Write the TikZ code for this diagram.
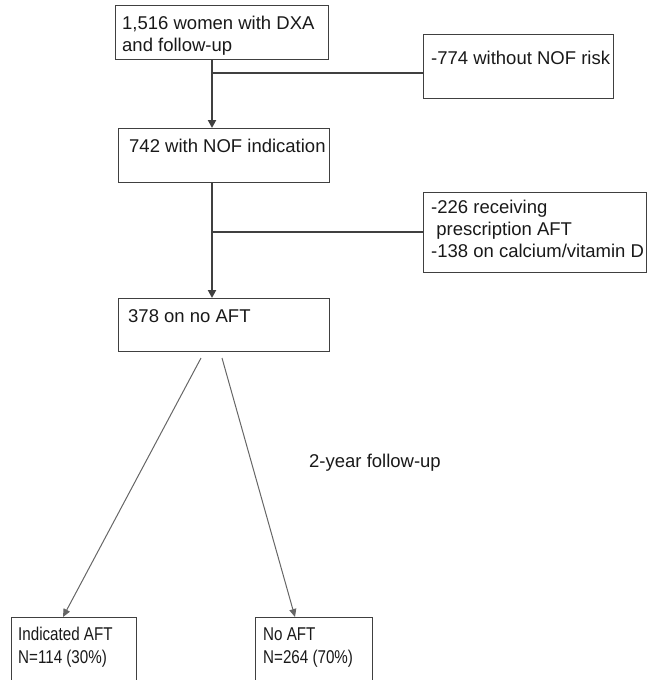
\documentclass[tikz,border=0pt]{standalone}
\usepackage{fontspec}
\setmainfont{Liberation Sans}
\newfontfamily\narrowfont[FakeStretch=0.82]{Liberation Sans}
\usetikzlibrary{arrows.meta}
\tikzset{
  box/.style={draw=black!75, line width=1.3pt, anchor=north west, inner sep=0pt},
  txt/.style={anchor=base west, inner sep=0pt, font=\fontsize{18.5pt}{22pt}\selectfont, text=black!90},
  ntxt/.style={anchor=base west, inner sep=0pt, font=\narrowfont\fontsize{18.5pt}{23pt}\selectfont, text=black!90},
  mainarr/.style={draw=black!75, line width=2pt, -{Triangle[length=8pt,width=8pt]}},
  side/.style={draw=black!75, line width=1.3pt},
  diag/.style={draw=black!60, line width=1pt, -{Triangle[length=8pt,width=7pt]}}
}
\begin{document}
\begin{tikzpicture}[x=1pt,y=-1pt]
\useasboundingbox (0,0) rectangle (650,680);
% boxes
\node[box, minimum width=213pt, minimum height=54pt] (b1) at (115,5) {};
\node[box, minimum width=190pt, minimum height=64pt] (b2) at (423,34) {};
\node[box, minimum width=211pt, minimum height=54pt] (b3) at (118,128) {};
\node[box, minimum width=223pt, minimum height=80pt] (b4) at (423,192) {};
\node[box, minimum width=211pt, minimum height=53pt] (b5) at (118,298) {};
\node[box, minimum width=125pt, minimum height=80pt] (b6) at (11,617) {};
\node[box, minimum width=117pt, minimum height=80pt] (b7) at (255,617) {};
% texts
\node[txt] (t1a) at (122,29) {1,516 women with DXA};
\node[txt] (t1b) at (122,51) {and follow-up};
\node[txt] (t2) at (431,64) {-774 without NOF risk};
\node[txt] (t3) at (129,152) {742 with NOF indication};
\node[txt] (t4a) at (431,213) {-226 receiving};
\node[txt] (t4b) at (431,235) {\ prescription AFT};
\node[txt] (t4c) at (431,257) {-138 on calcium/vitamin D};
\node[txt] (t5) at (128,322) {378 on no AFT};
\node[ntxt] (t6a) at (18,640) {Indicated AFT};
\node[ntxt] (t6b) at (18,663) {N=114 (30\%)};
\node[ntxt] (t7a) at (263,640) {No AFT};
\node[ntxt] (t7b) at (263,663) {N=264 (70\%)};
\node[txt] (fu) at (309,467) {2-year follow-up};
% connector coordinates
\coordinate (c1) at (212,73);
\coordinate (c2) at (212,232);
\coordinate (d1) at (201,358);
\coordinate (d2) at (222,358);
\coordinate (e1) at (63,617);
\coordinate (e2) at (295,617);
% connectors
\draw[mainarr] (b1.south -| c1) -- (b3.north -| c1);
\draw[side] (c1) -- (c1 -| b2.west);
\draw[mainarr] (b3.south -| c2) -- (b5.north -| c2);
\draw[side] (c2) -- (c2 -| b4.west);
\draw[diag] (d1) -- (e1);
\draw[diag] (d2) -- (e2);
\end{tikzpicture}
\end{document}
